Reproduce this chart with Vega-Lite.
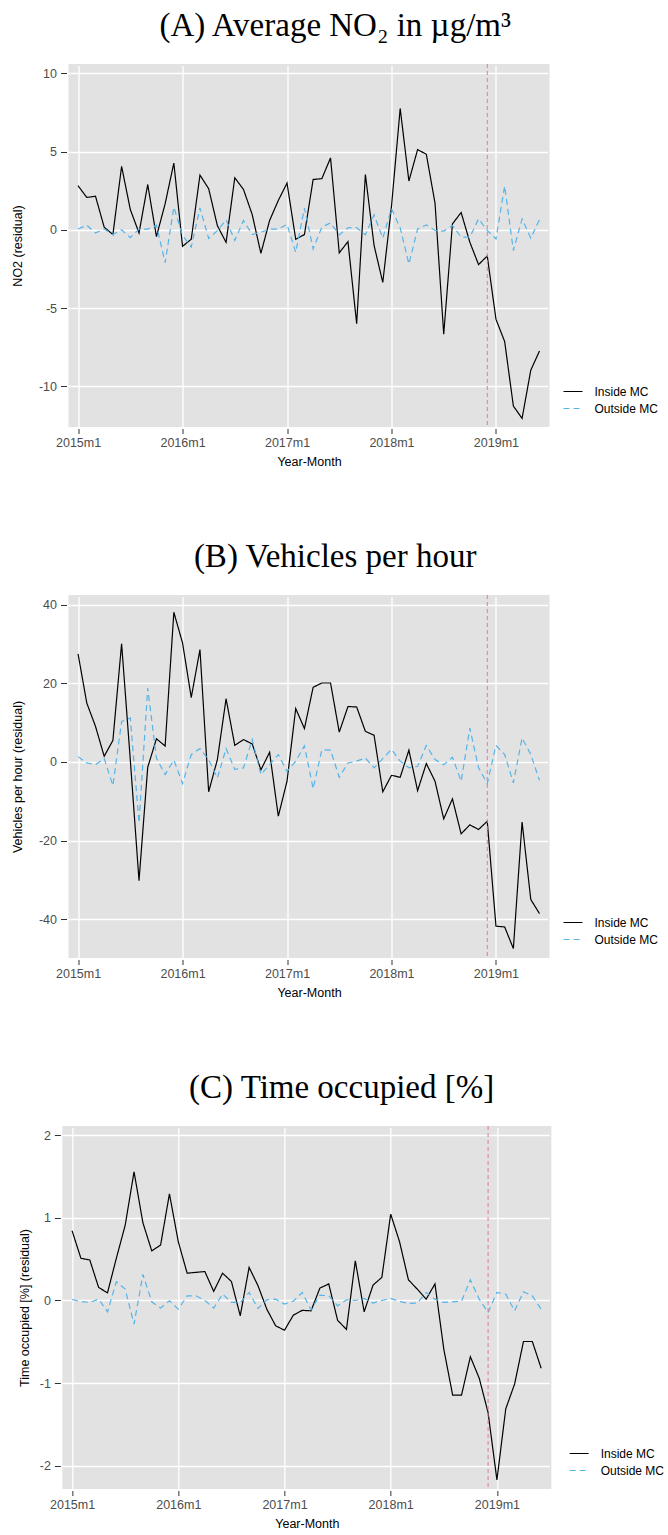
{
  "$schema": "https://vega.github.io/schema/vega-lite/v6.json",
  "padding": {"left": 11, "top": 9, "right": 0, "bottom": 0},
  "background": "white",
  "config": {
    "view": {"fill": "#E2E2E2", "stroke": null},
    "font": "Liberation Sans",
    "axis": {
      "grid": true, "gridColor": "white", "gridWidth": 1.3, "domain": false,
      "tickColor": "#333333", "tickWidth": 1,
      "labelColor": "#4D4D4D", "labelFontSize": 12.5, "labelFont": "Liberation Sans",
      "titleFont": "Liberation Sans", "titleFontSize": 12.5, "titleFontWeight": "normal", "titleColor": "black"
    },
    "axisX": {"titlePadding": 6, "tickSize": 5, "offset": 1.5, "labelPadding": 3},
    "axisY": {"titlePadding": 13.6, "tickSize": 6, "offset": 2, "labelPadding": 4},
    "legend": {
      "symbolType": "stroke", "symbolSize": 361, "symbolStrokeWidth": 1.2,
      "labelFont": "Liberation Sans", "labelFontSize": 12, "labelColor": "black", "labelOffset": 11,
      "rowPadding": 0, "padding": 0
    },
    "title": {"font": "Liberation Serif", "fontSize": 33, "fontWeight": "normal", "color": "black", "anchor": "middle", "frame": "bounds", "offset": 21}
  },
  "datasets": {"resid": [
    {"month":0,"series":"Inside MC","no2":2.82,"vph":27.5,"occ":0.843},
    {"month":1,"series":"Inside MC","no2":2.07,"vph":15.0,"occ":0.51},
    {"month":2,"series":"Inside MC","no2":2.15,"vph":9.07,"occ":0.49},
    {"month":3,"series":"Inside MC","no2":0.17,"vph":1.44,"occ":0.157},
    {"month":4,"series":"Inside MC","no2":-0.3,"vph":5.5,"occ":0.093},
    {"month":5,"series":"Inside MC","no2":4.06,"vph":30.1,"occ":0.51},
    {"month":6,"series":"Inside MC","no2":1.3,"vph":0.5,"occ":0.91},
    {"month":7,"series":"Inside MC","no2":-0.2,"vph":-30.2,"occ":1.556},
    {"month":8,"series":"Inside MC","no2":2.9,"vph":-1.36,"occ":0.94},
    {"month":9,"series":"Inside MC","no2":-0.43,"vph":5.9,"occ":0.6},
    {"month":10,"series":"Inside MC","no2":1.67,"vph":4.07,"occ":0.67},
    {"month":11,"series":"Inside MC","no2":4.27,"vph":38.1,"occ":1.29},
    {"month":12,"series":"Inside MC","no2":-1.05,"vph":30.3,"occ":0.71},
    {"month":13,"series":"Inside MC","no2":-0.6,"vph":16.4,"occ":0.33},
    {"month":14,"series":"Inside MC","no2":3.5,"vph":28.6,"occ":0.34},
    {"month":15,"series":"Inside MC","no2":2.63,"vph":-7.6,"occ":0.35},
    {"month":16,"series":"Inside MC","no2":0.27,"vph":0.6,"occ":0.11},
    {"month":17,"series":"Inside MC","no2":-0.8,"vph":16.1,"occ":0.33},
    {"month":18,"series":"Inside MC","no2":3.33,"vph":4.24,"occ":0.23},
    {"month":19,"series":"Inside MC","no2":2.58,"vph":5.7,"occ":-0.185},
    {"month":20,"series":"Inside MC","no2":0.98,"vph":4.6,"occ":0.4},
    {"month":21,"series":"Inside MC","no2":-1.5,"vph":-2.0,"occ":0.18},
    {"month":22,"series":"Inside MC","no2":0.6,"vph":2.46,"occ":-0.105},
    {"month":23,"series":"Inside MC","no2":1.88,"vph":-13.8,"occ":-0.306},
    {"month":24,"series":"Inside MC","no2":2.99,"vph":-4.9,"occ":-0.36},
    {"month":25,"series":"Inside MC","no2":-0.6,"vph":13.6,"occ":-0.177},
    {"month":26,"series":"Inside MC","no2":-0.3,"vph":8.5,"occ":-0.12},
    {"month":27,"series":"Inside MC","no2":3.22,"vph":19.0,"occ":-0.125},
    {"month":28,"series":"Inside MC","no2":3.27,"vph":20.1,"occ":0.15},
    {"month":29,"series":"Inside MC","no2":4.6,"vph":20.1,"occ":0.2},
    {"month":30,"series":"Inside MC","no2":-1.47,"vph":7.6,"occ":-0.24},
    {"month":31,"series":"Inside MC","no2":-0.75,"vph":14.1,"occ":-0.35},
    {"month":32,"series":"Inside MC","no2":-6.0,"vph":14.0,"occ":0.48},
    {"month":33,"series":"Inside MC","no2":3.54,"vph":7.8,"occ":-0.137},
    {"month":34,"series":"Inside MC","no2":-1.0,"vph":6.8,"occ":0.185},
    {"month":35,"series":"Inside MC","no2":-3.36,"vph":-7.6,"occ":0.28},
    {"month":36,"series":"Inside MC","no2":1.5,"vph":-3.4,"occ":1.044},
    {"month":37,"series":"Inside MC","no2":7.76,"vph":-3.9,"occ":0.71},
    {"month":38,"series":"Inside MC","no2":3.12,"vph":3.0,"occ":0.25},
    {"month":39,"series":"Inside MC","no2":5.13,"vph":-7.3,"occ":0.137},
    {"month":40,"series":"Inside MC","no2":4.83,"vph":-0.4,"occ":0.016},
    {"month":41,"series":"Inside MC","no2":1.71,"vph":-4.9,"occ":0.2},
    {"month":42,"series":"Inside MC","no2":-6.67,"vph":-14.5,"occ":-0.59},
    {"month":43,"series":"Inside MC","no2":0.38,"vph":-9.4,"occ":-1.145},
    {"month":44,"series":"Inside MC","no2":1.11,"vph":-18.3,"occ":-1.145},
    {"month":45,"series":"Inside MC","no2":-0.79,"vph":-16.0,"occ":-0.68},
    {"month":46,"series":"Inside MC","no2":-2.22,"vph":-17.2,"occ":-0.94},
    {"month":47,"series":"Inside MC","no2":-1.67,"vph":-15.1,"occ":-1.355},
    {"month":48,"series":"Inside MC","no2":-5.71,"vph":-41.8,"occ":-2.17},
    {"month":49,"series":"Inside MC","no2":-7.14,"vph":-42.0,"occ":-1.31},
    {"month":50,"series":"Inside MC","no2":-11.26,"vph":-47.5,"occ":-1.01},
    {"month":51,"series":"Inside MC","no2":-12.05,"vph":-15.3,"occ":-0.496},
    {"month":52,"series":"Inside MC","no2":-8.97,"vph":-35.0,"occ":-0.496},
    {"month":53,"series":"Inside MC","no2":-7.74,"vph":-38.6,"occ":-0.82},
    {"month":0,"series":"Outside MC","no2":0.05,"vph":1.36,"occ":0.012},
    {"month":1,"series":"Outside MC","no2":0.3,"vph":-0.25,"occ":-0.012},
    {"month":2,"series":"Outside MC","no2":-0.2,"vph":-0.7,"occ":-0.024},
    {"month":3,"series":"Outside MC","no2":0.06,"vph":0.85,"occ":0.016},
    {"month":4,"series":"Outside MC","no2":-0.3,"vph":-6.0,"occ":-0.137},
    {"month":5,"series":"Outside MC","no2":0.0,"vph":10.3,"occ":0.226},
    {"month":6,"series":"Outside MC","no2":-0.5,"vph":11.2,"occ":0.137},
    {"month":7,"series":"Outside MC","no2":0.05,"vph":-15.5,"occ":-0.286},
    {"month":8,"series":"Outside MC","no2":0.05,"vph":18.8,"occ":0.315},
    {"month":9,"series":"Outside MC","no2":0.3,"vph":1.0,"occ":-0.016},
    {"month":10,"series":"Outside MC","no2":-2.1,"vph":-3.2,"occ":-0.09},
    {"month":11,"series":"Outside MC","no2":1.45,"vph":0.5,"occ":-0.004},
    {"month":12,"series":"Outside MC","no2":-0.35,"vph":-5.5,"occ":-0.105},
    {"month":13,"series":"Outside MC","no2":-1.1,"vph":1.9,"occ":0.056},
    {"month":14,"series":"Outside MC","no2":1.4,"vph":3.4,"occ":0.056},
    {"month":15,"series":"Outside MC","no2":-0.55,"vph":0.6,"occ":0.0},
    {"month":16,"series":"Outside MC","no2":-0.05,"vph":-4.1,"occ":-0.093},
    {"month":17,"series":"Outside MC","no2":0.64,"vph":3.4,"occ":0.077},
    {"month":18,"series":"Outside MC","no2":-0.68,"vph":-1.9,"occ":-0.024},
    {"month":19,"series":"Outside MC","no2":0.6,"vph":-1.5,"occ":-0.024},
    {"month":20,"series":"Outside MC","no2":-0.3,"vph":5.7,"occ":0.097},
    {"month":21,"series":"Outside MC","no2":-0.15,"vph":-3.2,"occ":-0.097},
    {"month":22,"series":"Outside MC","no2":0.05,"vph":-0.7,"occ":0.008},
    {"month":23,"series":"Outside MC","no2":0.05,"vph":1.9,"occ":0.016},
    {"month":24,"series":"Outside MC","no2":0.35,"vph":-2.4,"occ":-0.044},
    {"month":25,"series":"Outside MC","no2":-1.43,"vph":0.2,"occ":-0.008},
    {"month":26,"series":"Outside MC","no2":1.39,"vph":4.1,"occ":0.097},
    {"month":27,"series":"Outside MC","no2":-1.22,"vph":-6.8,"occ":-0.113},
    {"month":28,"series":"Outside MC","no2":0.17,"vph":3.1,"occ":0.065},
    {"month":29,"series":"Outside MC","no2":0.45,"vph":3.0,"occ":0.056},
    {"month":30,"series":"Outside MC","no2":-0.32,"vph":-3.9,"occ":-0.065},
    {"month":31,"series":"Outside MC","no2":0.13,"vph":-0.25,"occ":0.008},
    {"month":32,"series":"Outside MC","no2":0.15,"vph":0.2,"occ":0.0},
    {"month":33,"series":"Outside MC","no2":-0.32,"vph":1.0,"occ":0.024},
    {"month":34,"series":"Outside MC","no2":0.96,"vph":-1.5,"occ":-0.032},
    {"month":35,"series":"Outside MC","no2":-0.53,"vph":0.85,"occ":0.0},
    {"month":36,"series":"Outside MC","no2":1.35,"vph":3.2,"occ":0.024},
    {"month":37,"series":"Outside MC","no2":0.13,"vph":0.2,"occ":-0.012},
    {"month":38,"series":"Outside MC","no2":-2.18,"vph":-1.5,"occ":-0.036},
    {"month":39,"series":"Outside MC","no2":0.06,"vph":-1.1,"occ":-0.032},
    {"month":40,"series":"Outside MC","no2":0.32,"vph":4.2,"occ":0.097},
    {"month":41,"series":"Outside MC","no2":-0.04,"vph":0.6,"occ":0.016},
    {"month":42,"series":"Outside MC","no2":-0.08,"vph":-0.7,"occ":-0.024},
    {"month":43,"series":"Outside MC","no2":0.28,"vph":1.2,"occ":-0.016},
    {"month":44,"series":"Outside MC","no2":-0.47,"vph":-4.9,"occ":-0.008},
    {"month":45,"series":"Outside MC","no2":-0.47,"vph":8.6,"occ":0.25},
    {"month":46,"series":"Outside MC","no2":0.7,"vph":-1.5,"occ":0.016},
    {"month":47,"series":"Outside MC","no2":-0.04,"vph":-5.5,"occ":-0.145},
    {"month":48,"series":"Outside MC","no2":-0.58,"vph":4.2,"occ":0.097},
    {"month":49,"series":"Outside MC","no2":2.8,"vph":1.9,"occ":0.077},
    {"month":50,"series":"Outside MC","no2":-1.32,"vph":-5.3,"occ":-0.125},
    {"month":51,"series":"Outside MC","no2":0.7,"vph":6.1,"occ":0.105},
    {"month":52,"series":"Outside MC","no2":-0.53,"vph":1.9,"occ":0.056},
    {"month":53,"series":"Outside MC","no2":0.66,"vph":-4.7,"occ":-0.105}
  ]},
  "spacing": 72,
  "center": true,
  "resolve": {"scale": {"color": "independent", "strokeDash": "independent"}},
  "vconcat": [
    {
      "title": "(A) Average NO₂ in µg/m³",
      "width": 481, "height": 363,
      "data": {"name": "resid"},
      "layer": [
        {
          "mark": {"type": "line", "strokeWidth": 1.2},
          "encoding": {
            "x": {"field": "month", "type": "quantitative", "scale": {"domain": [-1.1, 54.15], "nice": false, "zero": false}, "axis": {"values": [0, 12, 24, 36, 48], "labelExpr": "(2015 + datum.value / 12) + 'm1'", "title": "Year-Month"}},
            "y": {"field": "no2", "type": "quantitative", "scale": {"domain": [-12.6, 10.6], "nice": false, "zero": false}, "axis": {"values": [-10, -5, 0, 5, 10], "labelExpr": "'' + datum.value", "title": "NO2  (residual)", "titlePadding": 13.6}},
            "color": {"field": "series", "type": "nominal", "scale": {"domain": ["Inside MC", "Outside MC"], "range": ["#000000", "#56B4E9"]}, "legend": {"title": null, "orient": "none", "legendX": 494, "legendY": 317}},
            "strokeDash": {"field": "series", "type": "nominal", "scale": {"domain": ["Inside MC", "Outside MC"], "range": [[1, 0], [6, 4]]}, "legend": {"title": null, "orient": "none", "legendX": 494, "legendY": 317}}
          }
        },
        {
          "data": {"values": [{"treatment": 47}]},
          "mark": {"type": "rule", "color": "#E0789E", "strokeDash": [4, 3], "strokeWidth": 1},
          "encoding": {"x": {"field": "treatment", "type": "quantitative"}}
        }
      ]
    },
    {
      "title": "(B) Vehicles per hour",
      "width": 481, "height": 363,
      "data": {"name": "resid"},
      "layer": [
        {
          "mark": {"type": "line", "strokeWidth": 1.2},
          "encoding": {
            "x": {"field": "month", "type": "quantitative", "scale": {"domain": [-1.1, 54.15], "nice": false, "zero": false}, "axis": {"values": [0, 12, 24, 36, 48], "labelExpr": "(2015 + datum.value / 12) + 'm1'", "title": "Year-Month"}},
            "y": {"field": "vph", "type": "quantitative", "scale": {"domain": [-49.9, 42.5], "nice": false, "zero": false}, "axis": {"values": [-40, -20, 0, 20, 40], "labelExpr": "'' + datum.value", "title": "Vehicles per hour (residual)", "titlePadding": 13.6}},
            "color": {"field": "series", "type": "nominal", "scale": {"domain": ["Inside MC", "Outside MC"], "range": ["#000000", "#56B4E9"]}, "legend": {"title": null, "orient": "none", "legendX": 494, "legendY": 317}},
            "strokeDash": {"field": "series", "type": "nominal", "scale": {"domain": ["Inside MC", "Outside MC"], "range": [[1, 0], [6, 4]]}, "legend": {"title": null, "orient": "none", "legendX": 494, "legendY": 317}}
          }
        },
        {
          "data": {"values": [{"treatment": 47}]},
          "mark": {"type": "rule", "color": "#E0789E", "strokeDash": [4, 3], "strokeWidth": 1},
          "encoding": {"x": {"field": "treatment", "type": "quantitative"}}
        }
      ]
    },
    {
      "title": "(C) Time occupied [%]",
      "width": 489, "height": 363,
      "data": {"name": "resid"},
      "layer": [
        {
          "mark": {"type": "line", "strokeWidth": 1.2},
          "encoding": {
            "x": {"field": "month", "type": "quantitative", "scale": {"domain": [-1.1, 54.15], "nice": false, "zero": false}, "axis": {"values": [0, 12, 24, 36, 48], "labelExpr": "(2015 + datum.value / 12) + 'm1'", "title": "Year-Month"}},
            "y": {"field": "occ", "type": "quantitative", "scale": {"domain": [-2.28, 2.11], "nice": false, "zero": false}, "axis": {"values": [-2, -1, 0, 1, 2], "labelExpr": "'' + datum.value", "title": "Time occupied [%] (residual)", "titlePadding": 7.7}},
            "color": {"field": "series", "type": "nominal", "scale": {"domain": ["Inside MC", "Outside MC"], "range": ["#000000", "#56B4E9"]}, "legend": {"title": null, "orient": "none", "legendX": 506.3, "legendY": 317}},
            "strokeDash": {"field": "series", "type": "nominal", "scale": {"domain": ["Inside MC", "Outside MC"], "range": [[1, 0], [6, 4]]}, "legend": {"title": null, "orient": "none", "legendX": 506.3, "legendY": 317}}
          }
        },
        {
          "data": {"values": [{"treatment": 47}]},
          "mark": {"type": "rule", "color": "#E0789E", "strokeDash": [4, 3], "strokeWidth": 1},
          "encoding": {"x": {"field": "treatment", "type": "quantitative"}}
        }
      ]
    }
  ]
}
